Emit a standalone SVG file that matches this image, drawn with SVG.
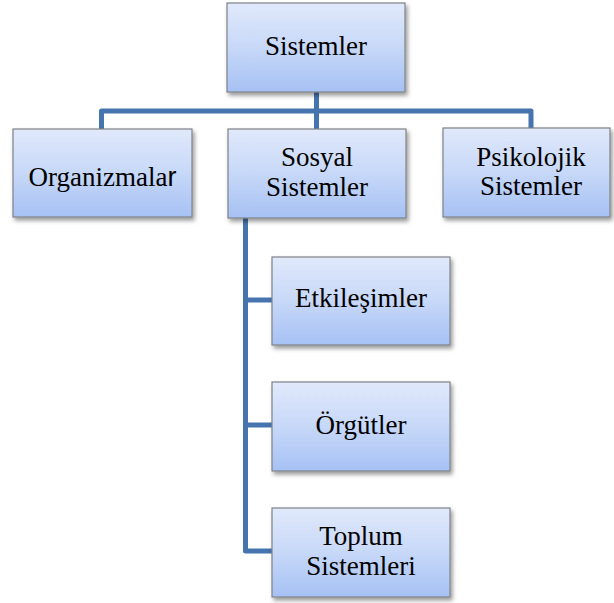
<svg xmlns="http://www.w3.org/2000/svg" width="614" height="603" viewBox="0 0 614 603">
  <defs>
    <linearGradient id="boxFill" x1="0" y1="0" x2="0" y2="1">
      <stop offset="0" stop-color="#e1e9fb"/>
      <stop offset="0.5" stop-color="#c7d8f8"/>
      <stop offset="1" stop-color="#a6c1f4"/>
    </linearGradient>
    <filter id="shadow" x="-10%" y="-10%" width="125%" height="130%">
      <feDropShadow dx="2" dy="3" stdDeviation="2" flood-color="#000" flood-opacity="0.4"/>
    </filter>
  </defs>
  <style>
    .box { fill: url(#boxFill); stroke: #7f8287; stroke-width: 1.2; filter: url(#shadow); }
    .lbl { font-family: "Times New Roman", "Liberation Serif", Tinos, "DejaVu Serif", serif; font-size: 27px; fill: #000; text-anchor: middle; }
    .conn { fill: none; stroke: #4674ae; stroke-width: 5; stroke-linejoin: round; }
  </style>

  <!-- connectors -->
  <g id="connectors">
    <path class="conn" d="M316.5,92 V111"/>
    <path class="conn" d="M101.5,129 V111 H531 V128"/>
    <path class="conn" d="M316.5,111 V129"/>
    <path class="conn" d="M245.5,218 V551 H272"/>
    <path class="conn" d="M245.5,300 H272"/>
    <path class="conn" d="M245.5,425 H272"/>
  </g>

  <g id="sistemler">
    <rect class="box" x="227" y="3" width="178" height="89"/>
    <text class="lbl" x="316" y="55">Sistemler</text>
  </g>

  <g id="organizmalar">
    <rect class="box" x="13" y="129" width="179" height="88"/>
    <text class="lbl" x="102.5" y="186">Organizmala<tspan style="font-family: 'Liberation Sans', Arial, sans-serif">r</tspan></text>
  </g>

  <g id="sosyal-sistemler">
    <rect class="box" x="228" y="129" width="178" height="89"/>
    <text class="lbl" x="317" y="166">Sosyal</text>
    <text class="lbl" x="317" y="196">Sistemler</text>
  </g>

  <g id="psikolojik-sistemler">
    <rect class="box" x="443" y="128" width="167" height="89"/>
    <text class="lbl" x="531" y="166">Psikolojik</text>
    <text class="lbl" x="531" y="195">Sistemler</text>
  </g>

  <g id="etkilesimler">
    <rect class="box" x="272" y="257" width="178" height="88"/>
    <text class="lbl" x="361" y="307">Etkileşimler</text>
  </g>

  <g id="orgutler">
    <rect class="box" x="272" y="382" width="178" height="89"/>
    <text class="lbl" x="361" y="434">Örgütler</text>
  </g>

  <g id="toplum-sistemleri">
    <rect class="box" x="272" y="508" width="178" height="89"/>
    <text class="lbl" x="361" y="545">Toplum</text>
    <text class="lbl" x="361" y="575">Sistemleri</text>
  </g>
</svg>
